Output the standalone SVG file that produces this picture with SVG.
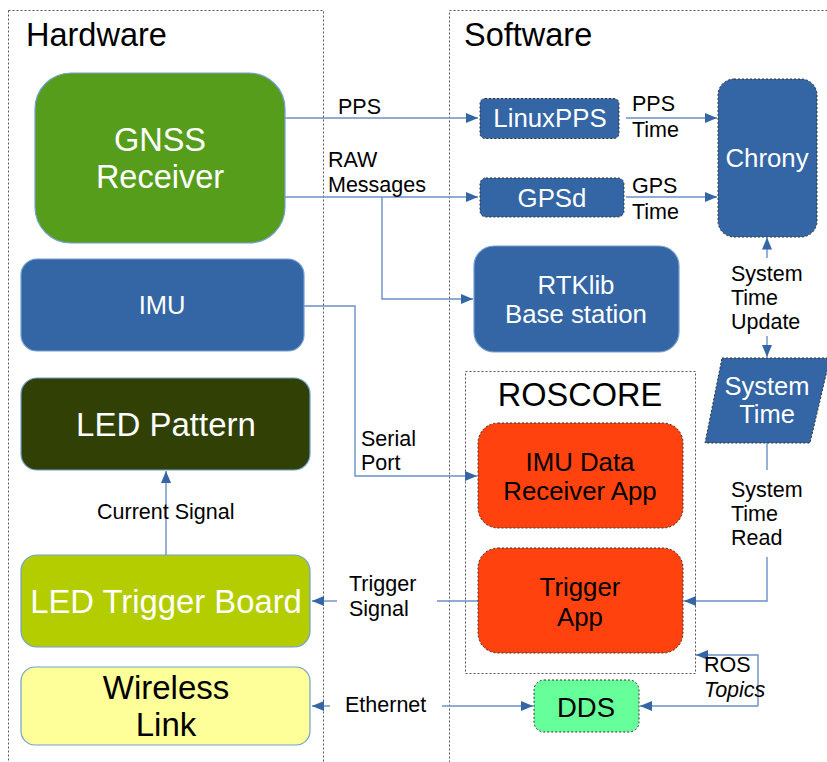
<svg xmlns="http://www.w3.org/2000/svg" width="827" height="762" viewBox="0 0 827 762">
  <defs>
    <marker id="arr" viewBox="0 0 12 10" refX="12" refY="5" markerWidth="12" markerHeight="10" markerUnits="userSpaceOnUse" orient="auto">
      <path d="M0,0 L12,5 L0,10 Z" fill="#3465a4"/>
    </marker>
  </defs>
  <style>
    text { font-family: "Liberation Sans", Arial, sans-serif; }
    .area { fill: none; stroke: #555; stroke-width: 1; stroke-dasharray: 2 2; }
    .title { font-size: 32.5px; fill: #000; }
    .node { stroke: #729fcf; stroke-width: 1.2; }
    .dash { stroke: #333; stroke-width: 1; stroke-dasharray: 2 2; }
    .blue { fill: #3465a4; }
    .wt { fill: #fff; text-anchor: middle; }
    .bk { fill: #000; text-anchor: middle; }
    .lbl { font-size: 21.5px; fill: #000; }
    .wire { fill: none; stroke: #6a8fc8; stroke-width: 1.4; }
  </style>

  <!-- grouping areas -->
  <g id="hardware-area">
    <rect class="area" x="8.5" y="10.5" width="315" height="770"/>
    <text class="title" x="26" y="46">Hardware</text>
  </g>
  <g id="software-area">
    <rect class="area" x="449.5" y="10.5" width="400" height="770"/>
    <text class="title" x="464" y="46">Software</text>
  </g>
  <g id="roscore-area">
    <rect class="area" x="465.5" y="371.5" width="230" height="302"/>
    <text class="title bk" x="580" y="406">ROSCORE</text>
  </g>

  <!-- connectors -->
  <g id="connectors">
    <path class="wire" d="M285,118 H478" marker-end="url(#arr)"/>
    <path class="wire" d="M285,197 H478" marker-end="url(#arr)"/>
    <path class="wire" d="M382,197 V299 H473" marker-end="url(#arr)"/>
    <path class="wire" d="M626,118 H717" marker-end="url(#arr)"/>
    <path class="wire" d="M626,197 H717" marker-end="url(#arr)"/>
    <path class="wire" d="M767,258 V237.5" marker-end="url(#arr)"/>
    <path class="wire" d="M767,336 V357" marker-end="url(#arr)"/>
    <path class="wire" d="M767,443 V470"/>
    <path class="wire" d="M767,557 V601 H684" marker-end="url(#arr)"/>
    <path class="wire" d="M304,306 H355 V476 H477" marker-end="url(#arr)"/>
    <path class="wire" d="M166,555 V471" marker-end="url(#arr)"/>
    <path class="wire" d="M478,601 H437"/>
    <path class="wire" d="M337,601 H312" marker-end="url(#arr)"/>
    <path class="wire" d="M330,706 H312" marker-end="url(#arr)"/>
    <path class="wire" d="M442,706 H533" marker-end="url(#arr)"/>
    <path class="wire" d="M758,706 H640" marker-end="url(#arr)"/>
    <path class="wire" d="M758,706 V655 H696" marker-end="url(#arr)"/>

    <text class="lbl" x="338" y="114">PPS</text>
    <text class="lbl" x="328" y="167">RAW</text>
    <text class="lbl" x="328" y="192">Messages</text>
    <text class="lbl" x="632" y="111">PPS</text>
    <text class="lbl" x="632" y="137">Time</text>
    <text class="lbl" x="632" y="193">GPS</text>
    <text class="lbl" x="632" y="219">Time</text>
    <text class="lbl" x="731" y="281">System</text>
    <text class="lbl" x="731" y="305">Time</text>
    <text class="lbl" x="731" y="329">Update</text>
    <text class="lbl" x="731" y="497">System</text>
    <text class="lbl" x="731" y="521">Time</text>
    <text class="lbl" x="731" y="545">Read</text>
    <text class="lbl" x="361" y="446">Serial</text>
    <text class="lbl" x="361" y="470">Port</text>
    <text class="lbl" x="97" y="519">Current Signal</text>
    <text class="lbl" x="349" y="591">Trigger</text>
    <text class="lbl" x="349" y="616">Signal</text>
    <text class="lbl" x="345" y="712">Ethernet</text>
    <text class="lbl" x="704" y="672">ROS</text>
    <text class="lbl" x="704" y="697" font-style="italic">Topics</text>
  </g>

  <!-- hardware nodes -->
  <g id="gnss-receiver">
    <rect class="node" x="35" y="73" width="250" height="170" rx="36" fill="#579d1c"/>
    <text class="wt" x="160" y="151" font-size="32.5">GNSS</text>
    <text class="wt" x="160" y="188" font-size="32.5">Receiver</text>
  </g>
  <g id="imu">
    <rect class="node blue" x="21" y="259" width="283" height="92" rx="16"/>
    <text class="wt" x="162" y="314" font-size="25.5">IMU</text>
  </g>
  <g id="led-pattern">
    <rect class="node" x="21" y="378" width="289" height="92" rx="16" fill="#314004"/>
    <text class="wt" x="166" y="436" font-size="33">LED Pattern</text>
  </g>
  <g id="led-trigger-board">
    <rect class="node" x="21" y="555" width="289" height="92" rx="16" fill="#b4cd00"/>
    <text class="wt" x="166" y="613" font-size="32.8">LED Trigger Board</text>
  </g>
  <g id="wireless-link">
    <rect class="node" x="21" y="667" width="289" height="78" rx="14" fill="#ffff99"/>
    <text class="bk" x="166" y="699" font-size="33">Wireless</text>
    <text class="bk" x="166" y="736" font-size="33">Link</text>
  </g>

  <!-- software nodes -->
  <g id="linuxpps">
    <rect class="dash blue" x="480" y="98.5" width="139" height="40" rx="5"/>
    <text class="wt" x="550" y="127" font-size="25.8">LinuxPPS</text>
  </g>
  <g id="gpsd">
    <rect class="dash blue" x="480" y="178" width="144" height="39" rx="6"/>
    <text class="wt" x="552" y="207" font-size="25.8">GPSd</text>
  </g>
  <g id="chrony">
    <rect class="dash blue" x="718" y="79" width="99" height="158" rx="16"/>
    <text class="wt" x="767" y="167" font-size="25.8">Chrony</text>
  </g>
  <g id="rtklib">
    <rect class="node blue" x="474" y="246" width="205" height="106" rx="20"/>
    <text class="wt" x="576" y="294" font-size="25.8">RTKlib</text>
    <text class="wt" x="576" y="323" font-size="25.8">Base station</text>
  </g>
  <g id="system-time">
    <path class="dash blue" d="M722,358 H830 L810,443 H705 Z"/>
    <text class="wt" x="767" y="395" font-size="25.5">System</text>
    <text class="wt" x="767" y="423" font-size="25.5">Time</text>
  </g>
  <g id="imu-data-receiver-app">
    <rect class="dash" x="478" y="423" width="205" height="105" rx="20" fill="#ff420e"/>
    <text class="bk" x="580" y="471" font-size="25.8">IMU Data</text>
    <text class="bk" x="580" y="500" font-size="25.8">Receiver App</text>
  </g>
  <g id="trigger-app">
    <rect class="dash" x="478" y="548" width="205" height="105" rx="20" fill="#ff420e"/>
    <text class="bk" x="580" y="596" font-size="25.8">Trigger</text>
    <text class="bk" x="580" y="626" font-size="25.8">App</text>
  </g>
  <g id="dds">
    <rect class="dash" x="534" y="680" width="105" height="52" rx="10" fill="#66ff99"/>
    <text class="bk" x="586" y="717" font-size="27.5">DDS</text>
  </g>
</svg>
